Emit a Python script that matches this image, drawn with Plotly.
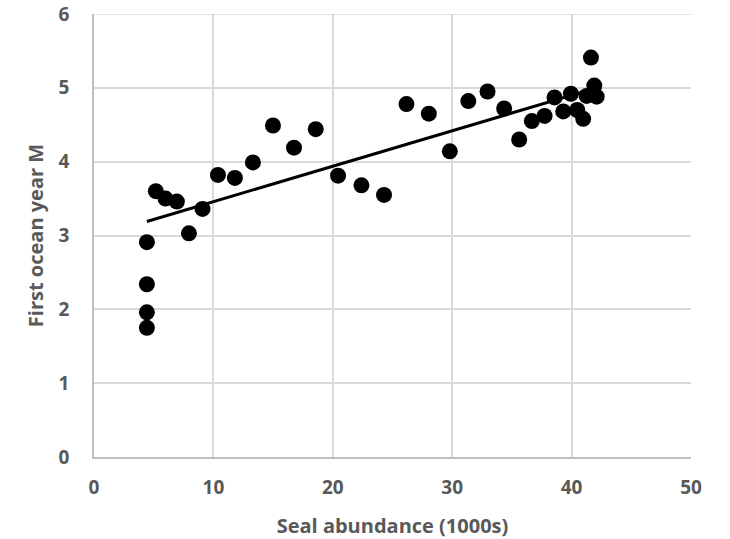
import plotly.graph_objects as go

seal_abundance = [4.43, 4.43, 4.43, 4.43, 5.18, 5.99, 6.94, 7.95, 9.09, 10.38, 11.80, 13.31,
                  14.99, 16.75, 18.57, 20.44, 22.40, 24.29, 26.17, 28.04, 29.80, 31.35,
                  32.96, 34.35, 35.61, 36.67, 37.74, 38.57, 39.30, 39.94, 40.47, 40.97,
                  41.62, 41.26, 41.90, 42.10]
first_ocean_m = [2.91, 2.34, 1.96, 1.75, 3.60, 3.50, 3.46, 3.03, 3.36, 3.82, 3.78, 3.99,
                 4.49, 4.19, 4.44, 3.81, 3.68, 3.55, 4.78, 4.65, 4.14, 4.82,
                 4.95, 4.72, 4.30, 4.55, 4.62, 4.87, 4.68, 4.92, 4.70, 4.58,
                 5.41, 4.89, 5.03, 4.88]

trend_x = [4.43, 42.10]
trend_y = [3.19, 5.00]

x_ticks = [0, 10, 20, 30, 40, 50]
y_ticks = [0, 1, 2, 3, 4, 5, 6]

font_fam = "'Open Sans', sans-serif"
grey = "#595959"
grid = "#d9d9d9"

fig = go.Figure()
fig.add_trace(go.Scatter(x=trend_x, y=trend_y, mode="lines",
                         line=dict(color="black", width=3), showlegend=False,
                         hoverinfo="skip"))
fig.add_trace(go.Scatter(x=seal_abundance, y=first_ocean_m, mode="markers",
                         marker=dict(color="black", size=16), showlegend=False))

# top gridline (plotly drops the grid line that sits exactly on the range end)
fig.add_shape(type="line", xref="paper", yref="y", x0=0, x1=1,
              y0=y_ticks[-1], y1=y_ticks[-1], line=dict(color=grid, width=1.5), layer="below")

fig.update_layout(
    width=730, height=539,
    margin=dict(l=94, r=39, t=14, b=82),
    paper_bgcolor="white", plot_bgcolor="white",
    font=dict(family=font_fam, color=grey, size=18),
    xaxis=dict(range=[0, 50], tickvals=x_ticks, showgrid=True, gridcolor=grid,
               gridwidth=1.5, zeroline=False, showline=True, linecolor="#bfbfbf",
               linewidth=1.5, ticks="", ticklabelstandoff=12, automargin=False,
               ticklabeloverflow="allow",
               tickfont=dict(size=19, family=font_fam, color=grey, weight="bold"),
               title=dict(text="Seal abundance (1000s)",
                          font=dict(size=20, color=grey, family=font_fam, weight="bold"),
                          standoff=21)),
    yaxis=dict(range=[0, 6], tickvals=y_ticks, showgrid=True, gridcolor=grid,
               gridwidth=1.5, zeroline=False, showline=True, linecolor="#bfbfbf",
               linewidth=1.5, ticks="", ticklabelstandoff=19, automargin=False,
               ticklabeloverflow="allow",
               tickfont=dict(size=19, family=font_fam, color=grey, weight="bold"),
               title=dict(text="First ocean year M",
                          font=dict(size=20, color=grey, family=font_fam, weight="bold"),
                          standoff=10)),
)

fig.write_html("out.html", config={"displayModeBar": False},
               post_script="document.body.style.margin='0';")
